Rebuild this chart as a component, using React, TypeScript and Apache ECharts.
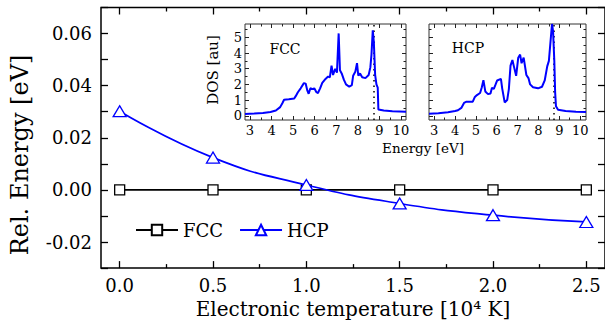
import React, { useEffect, useRef } from "react";
import * as echarts from "echarts";

// Main panel data
const temperatures = [0, 0.5, 1.0, 1.5, 2.0, 2.5];
const fccEnergy = [0, 0, 0, 0, 0, 0];
const hcpEnergy = [0.0302, 0.0124, 0.0019, -0.0052, -0.0097, -0.0123];

// Tick positions
const mainXMajor = [0, 0.5, 1.0, 1.5, 2.0, 2.5];
const mainXMinor = [0.25, 0.75, 1.25, 1.75, 2.25];
const mainYLabels = [-0.02, 0, 0.02, 0.04, 0.06];
const insetXMajor = [3, 4, 5, 6, 7, 8, 9, 10];
const insetXMinor = [3.5, 4.5, 5.5, 6.5, 7.5, 8.5, 9.5];
const insetYMajor = [0, 1, 2, 3, 4, 5];
const insetYMinor = [0.5, 1.5, 2.5, 3.5, 4.5, 5.5];

// Inset DOS data [energy eV, DOS au]
const fermiLevel = 8.72;
const fccDos = [
  [2.77, 0.12], [3.2, 0.15], [3.6, 0.18], [3.95, 0.24], [4.2, 0.33], [4.4, 0.55],
  [4.5, 0.8], [4.58, 1.02], [4.8, 1.05], [5.05, 1.1], [5.12, 1.25], [5.22, 1.5],
  [5.35, 1.75], [5.5, 2.08], [5.58, 2.05], [5.66, 1.6], [5.72, 1.4], [5.8, 1.75],
  [5.9, 1.7], [5.98, 1.75], [6.08, 1.5], [6.15, 1.45], [6.25, 1.75], [6.35, 2.1],
  [6.5, 2.35], [6.62, 2.5], [6.7, 2.45], [6.78, 3.2], [6.85, 2.6], [6.95, 3.0],
  [7.03, 2.75], [7.11, 5.25], [7.17, 2.9], [7.25, 2.7], [7.35, 2.3], [7.45, 2.0],
  [7.6, 1.85], [7.72, 1.95], [7.78, 2.55], [7.88, 2.8], [7.96, 3.35], [8.02, 2.55],
  [8.1, 2.7], [8.2, 2.45], [8.35, 2.4], [8.5, 2.6], [8.58, 3.1], [8.63, 3.9],
  [8.69, 5.45], [8.74, 4.7], [8.8, 2.6], [8.86, 2.0], [8.92, 1.8], [8.95, 0.4],
  [9.2, 0.33], [9.6, 0.29], [10.23, 0.26],
];
const hcpDos = [
  [2.75, 0.13], [3.2, 0.16], [3.66, 0.22], [4.0, 0.3], [4.14, 0.35], [4.3, 0.5],
  [4.43, 0.82], [4.55, 0.9], [4.85, 0.9], [4.95, 1.2], [5.05, 1.32], [5.2, 1.45],
  [5.28, 1.8], [5.36, 2.27], [5.45, 1.55], [5.58, 1.38], [5.7, 1.42], [5.77, 1.78],
  [5.86, 1.72], [5.93, 1.95], [6.02, 2.25], [6.2, 2.35], [6.26, 1.75], [6.38, 0.85],
  [6.5, 1.0], [6.58, 1.7], [6.66, 3.2], [6.75, 3.55], [6.83, 3.1], [6.93, 2.55],
  [7.03, 3.7], [7.12, 3.9], [7.19, 3.35], [7.29, 3.7], [7.35, 3.2], [7.42, 2.6],
  [7.52, 2.4], [7.6, 2.0], [7.74, 1.82], [7.98, 1.75], [8.17, 1.85], [8.3, 2.25],
  [8.42, 3.15], [8.5, 3.5], [8.57, 4.6], [8.65, 5.85], [8.7, 5.4], [8.76, 3.5],
  [8.8, 1.5], [8.84, 0.6], [8.94, 0.38], [9.3, 0.3], [9.8, 0.26], [10.28, 0.24],
];

const FONT = "DejaVu Serif";
const BLUE = "#0000ff";

function tickAxis(gridIndex: number, position: string, min: number, max: number, ticks: number[], length: number, color: string, width: number) {
  return {
    type: "value", gridIndex, position, min, max,
    axisLine: { show: false, onZero: false },
    splitLine: { show: false },
    axisLabel: { show: false },
    axisTick: { show: true, inside: true, length, customValues: ticks, lineStyle: { color, width } },
  };
}

function labelAxis(base: any, values: number[], fmt: (v: number) => string, fontSize: number, margin: number) {
  return {
    ...base,
    axisLabel: {
      show: true, customValues: values, formatter: fmt, fontFamily: FONT, fontSize, color: "#000", margin,
    },
  };
}

export default function App() {
  const ref = useRef<HTMLDivElement>(null);
  useEffect(() => {
    if (!ref.current) return;
    const chart = echarts.init(ref.current, null, { renderer: "svg" });
    const mx = [-0.1, 2.6];
    const fx = [2.77, 10.23];
    const hx = [2.75, 10.28];
    const iy = [-0.27, 5.85];

    const xAxis = [
      // main
      {
        ...labelAxis(tickAxis(0, "bottom", mx[0], mx[1], mainXMajor, 7, "#000", 1.3), mainXMajor, (v) => v.toFixed(1), 18, 8),
        name: "Electronic temperature [10\u2074 K]",
        nameLocation: "middle",
        nameGap: 25,
        nameTextStyle: { fontFamily: FONT, fontSize: 20, color: "#000" },
      },
      tickAxis(0, "bottom", mx[0], mx[1], mainXMinor, 4, "#000", 1.3),
      tickAxis(0, "top", mx[0], mx[1], mainXMajor, 7, "#000", 1.3),
      tickAxis(0, "top", mx[0], mx[1], mainXMinor, 4, "#000", 1.3),
      // FCC inset
      labelAxis(tickAxis(1, "bottom", fx[0], fx[1], insetXMajor, 4, "#222", 1), insetXMajor, (v) => String(v), 13, 4),
      tickAxis(1, "bottom", fx[0], fx[1], insetXMinor, 2.5, "#222", 1),
      tickAxis(1, "top", fx[0], fx[1], insetXMajor, 4, "#222", 1),
      tickAxis(1, "top", fx[0], fx[1], insetXMinor, 2.5, "#222", 1),
      // HCP inset
      labelAxis(tickAxis(2, "bottom", hx[0], hx[1], insetXMajor, 4, "#222", 1), insetXMajor, (v) => String(v), 13, 4),
      tickAxis(2, "bottom", hx[0], hx[1], insetXMinor, 2.5, "#222", 1),
      tickAxis(2, "top", hx[0], hx[1], insetXMajor, 4, "#222", 1),
      tickAxis(2, "top", hx[0], hx[1], insetXMinor, 2.5, "#222", 1),
    ];

    const mainY = (position: string, withLabels: boolean) => ({
      type: "value", gridIndex: 0, position, min: -0.03, max: 0.07, interval: 0.01,
      axisLine: { show: false, onZero: false },
      splitLine: { show: false },
      axisTick: { show: true, inside: true, length: 7, lineStyle: { color: "#000", width: 1.3 } },
      axisLabel: withLabels
        ? { show: true, customValues: mainYLabels, formatter: (v: number) => v.toFixed(2), fontFamily: FONT, fontSize: 18, color: "#000", margin: 9 }
        : { show: false },
    });

    const yAxis = [
      mainY("left", true),
      mainY("right", false),
      labelAxis(tickAxis(1, "left", iy[0], iy[1], insetYMajor, 4, "#222", 1), insetYMajor, (v) => String(v), 13, 3),
      tickAxis(1, "left", iy[0], iy[1], insetYMinor, 2.5, "#222", 1),
      tickAxis(1, "right", iy[0], iy[1], insetYMajor, 4, "#222", 1),
      tickAxis(1, "right", iy[0], iy[1], insetYMinor, 2.5, "#222", 1),
      tickAxis(2, "left", iy[0], iy[1], insetYMajor, 4, "#222", 1),
      tickAxis(2, "left", iy[0], iy[1], insetYMinor, 2.5, "#222", 1),
      tickAxis(2, "right", iy[0], iy[1], insetYMajor, 4, "#222", 1),
      tickAxis(2, "right", iy[0], iy[1], insetYMinor, 2.5, "#222", 1),
    ];

    const fermiMark = {
      silent: true,
      symbol: "none",
      label: { show: false },
      lineStyle: { color: "#000", type: [1.5, 4], width: 1.5 },
      data: [{ xAxis: fermiLevel }],
    };

    chart.setOption({
      animation: false,
      backgroundColor: "#fff",
      grid: [
        { left: 101, top: 7.5, width: 505, height: 262.5, show: true, borderColor: "#000", borderWidth: 1.5, backgroundColor: "transparent" },
        { left: 245, top: 24, width: 161, height: 96, show: true, borderColor: "#333", borderWidth: 1, backgroundColor: "#fff" },
        { left: 429, top: 24, width: 157, height: 96, show: true, borderColor: "#333", borderWidth: 1, backgroundColor: "#fff" },
      ],
      xAxis,
      yAxis,
      legend: {
        data: ["FCC", "HCP"],
        left: 135,
        top: 221,
        padding: 0,
        itemWidth: 42,
        itemHeight: 13,
        itemGap: 16,
        textStyle: { fontFamily: FONT, fontSize: 18, color: "#000" },
      },
      graphic: [
        { type: "text", x: 20, y: 155, rotation: Math.PI / 2, style: { text: "Rel. Energy [eV]", font: `24px "${FONT}"`, fill: "#000", align: "center", verticalAlign: "middle" } },
        { type: "text", x: 213, y: 70, rotation: Math.PI / 2, style: { text: "DOS [au]", font: `15px "${FONT}"`, fill: "#000", align: "center", verticalAlign: "middle" } },
        { type: "text", x: 423, y: 148, style: { text: "Energy [eV]", font: `13.5px "${FONT}"`, fill: "#000", align: "center", verticalAlign: "middle" } },
        { type: "text", x: 285, y: 49, z: 10, style: { text: "FCC", font: `14px "${FONT}"`, fill: "#000", align: "center", verticalAlign: "middle" } },
        { type: "text", x: 468, y: 48, z: 10, style: { text: "HCP", font: `14px "${FONT}"`, fill: "#000", align: "center", verticalAlign: "middle" } },
      ],
      series: [
        {
          name: "FCC", type: "line", xAxisIndex: 0, yAxisIndex: 0,
          data: temperatures.map((t, i) => [t, fccEnergy[i]]),
          symbol: "rect", symbolSize: 10,
          lineStyle: { color: "#000", width: 1.7 },
          itemStyle: { color: "#fff", borderColor: "#000", borderWidth: 1.3 },
          z: 3,
        },
        {
          name: "HCP", type: "line", xAxisIndex: 0, yAxisIndex: 0,
          data: temperatures.map((t, i) => [t, hcpEnergy[i]]),
          smooth: 0.5,
          symbol: "triangle", symbolSize: [13, 11],
          lineStyle: { color: BLUE, width: 1.7 },
          itemStyle: { color: "#fff", borderColor: BLUE, borderWidth: 1.3 },
          z: 4,
        },
        {
          name: "FCC DOS", type: "line", xAxisIndex: 4, yAxisIndex: 2,
          data: fccDos, symbol: "none", showSymbol: false,
          lineStyle: { color: BLUE, width: 2 },
          markLine: fermiMark,
          z: 5,
        },
        {
          name: "HCP DOS", type: "line", xAxisIndex: 8, yAxisIndex: 6,
          data: hcpDos, symbol: "none", showSymbol: false,
          lineStyle: { color: BLUE, width: 2 },
          markLine: fermiMark,
          z: 5,
        },
      ],
    });
    return () => chart.dispose();
  }, []);
  return <div ref={ref} style={{ position: "absolute", left: 0, top: 0, width: 605, height: 324 }} />;
}
